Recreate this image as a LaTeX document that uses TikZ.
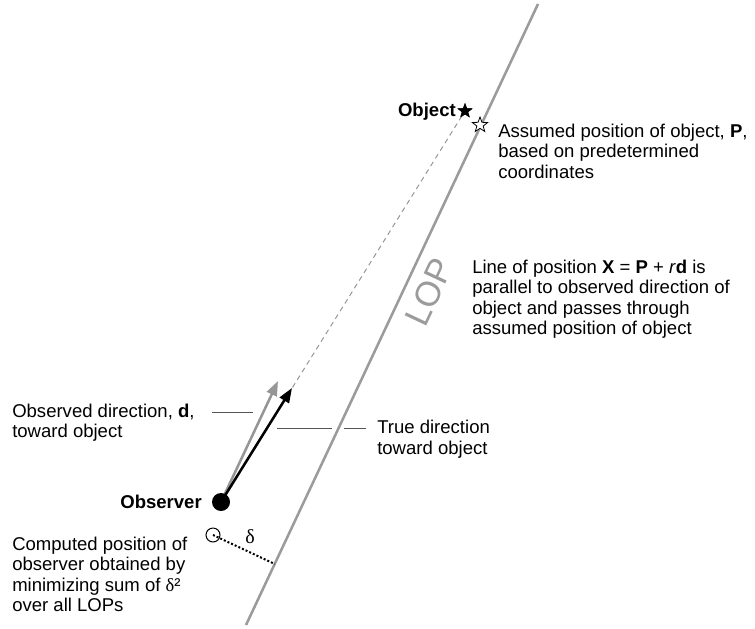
\documentclass[tikz,border=0pt]{standalone}
\usepackage{fontspec}
\setmainfont{Liberation Sans}
\newfontfamily\greekserif{Liberation Serif}
\usetikzlibrary{arrows.meta,shapes.geometric,calc}
\definecolor{lopgray}{RGB}{155,155,155}
\definecolor{arrowgray}{RGB}{150,150,150}
\definecolor{leadgray}{RGB}{85,85,85}
\tikzset{
  txt/.style={anchor=north west,inner sep=0pt,align=left,font=\fontsize{13.9}{15.4}\selectfont},
  boldtxt/.style={anchor=base east,inner sep=0pt,font=\fontsize{13.9}{15.4}\selectfont\bfseries},
  leader/.style={color=leadgray,line width=0.75},
  vecarrow/.style={line width=1.9,-{Triangle[length=11pt,width=8pt]}},
}
\begin{document}
\begin{tikzpicture}[x=0.75pt,y=0.75pt,yscale=-1,xscale=1]
\useasboundingbox (0,0) rectangle (755,628);

%Points
\coordinate (lopTop) at (538,4);
\coordinate (lopBot) at (246,625);
\coordinate (obs) at (221,502);
\coordinate (comp) at (213,535);
\coordinate (grayTip) at (278,381);
\coordinate (blackTip) at (292,388);
\coordinate (foot) at ($(lopTop)!(comp)!(lopBot)$);

%Straight Lines: line of position
\draw [color=lopgray,line width=1.9] (lopTop) -- (lopBot);
% Text Node
\node [color=lopgray,rotate=64.8,inner sep=0pt,font=\fontsize{26}{26}\selectfont] (lopLab) at (429,292) {LOP};

%Shape: Star (object)
\node [star,star points=5,star point ratio=2.4,fill=black,minimum size=12pt,inner sep=0pt] (objStar) at (465,111) {};
%Straight Lines: dashed sight line
\draw [color=arrowgray,line width=0.75,dash pattern={on 3.75pt off 3pt}] (obs) -- (objStar.center);
\node [star,star points=5,star point ratio=2.4,fill=black,minimum size=12pt,inner sep=0pt] at (objStar) {};
%Shape: Star (assumed position)
\node [star,star points=5,star point ratio=2.4,draw=black,fill=white,line width=0.6,minimum size=12pt,inner sep=0pt] (assStar) at (480,125) {};

%Straight Lines: direction vectors
\draw [vecarrow,color=arrowgray] (obs) -- (grayTip);
\draw [vecarrow,color=black] (obs) -- (blackTip);

%Shape: Circle (observer)
\fill (obs) circle (9);
%Shape: Circle (computed position)
\draw [line width=0.75] (comp) circle (7);
%Straight Lines: delta
\draw [line width=1.5,dash pattern={on 1.5pt off 1.5pt}] (comp) -- (foot);
\node (deltaLab) at (250,537) {\fontsize{15}{15}\selectfont\greekserif δ};

%Straight Lines: leaders
\coordinate (ldObsA) at (212,412);
\coordinate (ldObsB) at (253,412);
\draw [leader] (ldObsA) -- (ldObsB);
\coordinate (ldTrueA) at (277,428);
\coordinate (ldTrueB) at (332,428);
\coordinate (ldTrueC) at (344,428);
\coordinate (ldTrueD) at (366,428);
\draw [leader] (ldTrueA) -- (ldTrueB);
\draw [leader] (ldTrueC) -- (ldTrueD);

% Text Node
\node [boldtxt] (objLab) at (456,116) {Object};
% Text Node
\node [boldtxt] (obsLab) at (202,508) {Observer};
% Text Node
\node [txt] (assLab) at (498,123.5) {Assumed position of object, \textbf{P},\\based on predetermined\\coordinates};
% Text Node
\node [txt] (lineLab) at (472,259.5) {Line of position \textbf{X} = \textbf{P} + \textit{r}\textbf{d} is\\parallel to observed direction of\\object and passes through\\assumed position of object};
% Text Node
\node [txt] (dirLab) at (12,403.5) {Observed direction, \textbf{d},\\toward object};
% Text Node
\node [txt] (trueLab) at (377,420) {True direction\\toward object};
% Text Node
\node [txt] (compLab) at (12,536.5) {Computed position of\\observer obtained by\\minimizing sum of {\greekserif δ}²\\over all LOPs};

\end{tikzpicture}
\end{document}
